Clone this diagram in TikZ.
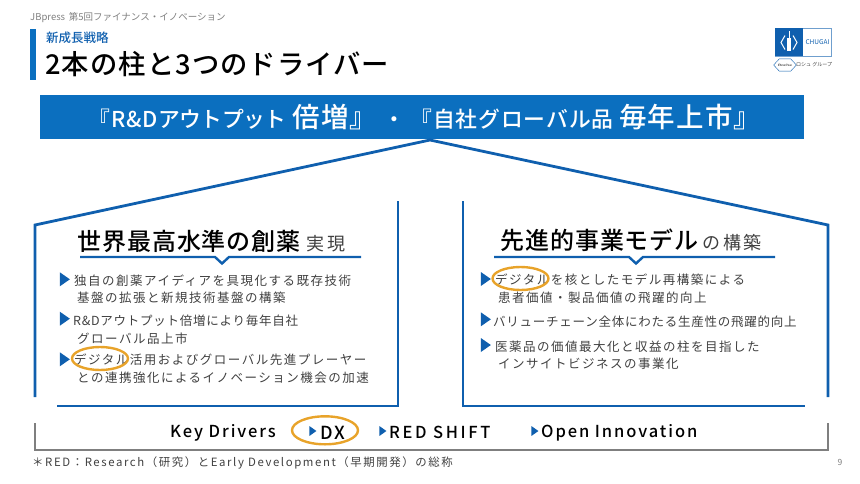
\documentclass[tikz,border=0pt]{standalone}
\usepackage{fontspec}
\setmainfont{Noto Sans CJK JP}[BoldFont={Noto Sans CJK JP Medium}]
\newfontfamily\bodyfont[LetterSpace=12,BoldFont={Noto Sans CJK JP Medium}]{Noto Sans CJK JP}
\newfontfamily\tightfont[LetterSpace=6]{Noto Sans CJK JP}
\newfontfamily\headfont[LetterSpace=4,BoldFont={Noto Sans CJK JP Medium}]{Noto Sans CJK JP}
\newfontfamily\widefont[LetterSpace=11.5,BoldFont={Noto Sans CJK JP Medium}]{Noto Sans CJK JP}
\newfontfamily\notefont[LetterSpace=14]{Noto Sans CJK JP}
\usetikzlibrary{arrows,shapes.geometric,positioning}
\definecolor{barblue}{HTML}{0B6FBF}
\definecolor{lineblue}{HTML}{0F5FAE}
\definecolor{ringorange}{HTML}{E8A32A}
\definecolor{bodygray}{HTML}{404040}
\definecolor{softgray}{HTML}{7F7F7F}

\begin{document}
\begin{tikzpicture}[x=1pt,y=-1pt,
    txt/.style={inner sep=0pt,anchor=west,align=left},
    body node/.style={txt,yshift=-1pt,font=\bodyfont\fontsize{12.5}{18}\selectfont,text=bodygray},
    head node/.style={txt,font=\headfont\bfseries\fontsize{24}{28}\selectfont,text=black},
    driver node/.style={txt,yshift=-1.5pt,font=\widefont\bfseries\fontsize{16.5}{20}\selectfont,text=black},
    tick/.style={isosceles triangle,isosceles triangle apex angle=70,fill=lineblue,
      inner sep=0pt,minimum height=10pt,minimum width=11pt},
    small tick/.style={tick,minimum height=7pt,minimum width=8pt},
    house/.style={draw=lineblue,line width=2.8pt,miter limit=10},
    ring/.style={ellipse,draw=ringorange,line width=2.4pt,inner sep=0pt}]
    \useasboundingbox (0,0) rectangle (860,483);

    % header
    \node[txt,font=\fontsize{9.5}{12}\selectfont,text=softgray] (series) at (30,18) {JBpress\, 第5回ファイナンス・イノベーション};
    \fill[barblue] (30,29) rectangle (36,80);
    \node[txt,font=\bfseries\fontsize{12.5}{14}\selectfont,text=lineblue] (kicker) at (46,38) {新成長戦略};
    \node[txt,font=\headfont\bfseries\fontsize{27.3}{30}\selectfont] (title) at (45,64) {2本の柱と3つのドライバー};

    % logo
    \node[draw=lineblue!60,line width=.5pt,minimum width=56pt,minimum height=28pt,inner sep=0pt] (logo) at (803,42) {};
    \fill[lineblue] (775,28) rectangle (803,56);
    \node[inner sep=0pt,font=\fontsize{6.5}{7}\selectfont,text=lineblue] (chugai) at (817.5,42.5) {CHUGAI};
    \draw[white,line width=1pt] (785,35.5) -- (781,42.5) -- (785,49.5) (793,35.5) -- (797,42.5) -- (793,49.5);
    \fill[white] (787,38) rectangle (791,51);
    \draw[white,line width=.6pt] (789,31) -- (789,38);
    \node[regular polygon,regular polygon sides=6,draw=lineblue,line width=.4pt,inner sep=0pt,
      xscale=1.6,minimum size=9pt,font=\fontsize{3}{3}\selectfont] (roche) at (785,65) {Roche};
    \node[txt,font=\fontsize{5}{6}\selectfont,text=bodygray] (group) at (796,65) {ロシュ グループ};

    % banner
    \node[fill=barblue,minimum width=764pt,minimum height=44pt,inner sep=0pt,text=white] (banner) at (422,117)
      {\hspace{6pt}\headfont\bfseries\fontsize{21.8}{24}\selectfont 『R\&D{\addfontfeature{LetterSpace=-2}アウトプット} {\fontsize{27.5}{30}\selectfont 倍増』} ・ 『自社グローバル品 {\fontsize{27.5}{30}\selectfont 毎年上市』}};

    % roof and pillars
    \coordinate (roofl0) at (35,397);
    \coordinate (roofl1) at (35,225);
    \coordinate (peak) at (430,140);
    \coordinate (roofr1) at (828,225);
    \coordinate (roofr0) at (828,397);
    \draw[house] (roofl0) -- (roofl1) -- (peak) -- (roofr1) -- (roofr0);
    \coordinate (pilla) at (398,201);
    \coordinate (pillb) at (398,406);
    \coordinate (pillc) at (57,406);
    \draw[house] (pilla) -- (pillb) -- (pillc);
    \coordinate (pilra) at (463,201);
    \coordinate (pilrb) at (463,406);
    \coordinate (pilrc) at (805,406);
    \draw[house] (pilra) -- (pilrb) -- (pilrc);

    % left pillar
    \node[head node] (lhead) at (77,241) {世界最高水準の創薬\hspace{6pt}{\mdseries\addfontfeature{LetterSpace=12}\color{bodygray}\fontsize{18}{20}\selectfont 実現}};
    \draw[lineblue,line width=2.4pt] (80,257) -- (215,257) -- (222,263.5) -- (229,257) -- (361,257);
    \node[tick] (lt1) at (63.5,279.3) {};
    \node[body node] (lb1) at (74,280) {独自の創薬アイディアを具現化する既存技術};
    \node[body node] (lb1b) at (77,297) {基盤の拡張と新規技術基盤の構築};
    \node[tick] (lt2) at (63.5,318.7) {};
    \node[body node,font=\tightfont\fontsize{12.5}{18}\selectfont] (lb2) at (73,320) {R\&Dアウトプット倍増により毎年自社};
    \node[body node] (lb2b) at (77,338) {グローバル品上市};
    \node[tick] (lt3) at (63.5,359.3) {};
    \node[body node] (lb3) at (74,359) {デジタル活用およびグローバル先進プレーヤー};
    \node[body node] (lb3b) at (77,377) {との連携強化によるイノベーション機会の加速};
    \node[ring,minimum width=56pt,minimum height=23pt] (lring) at (100,358.5) {};

    % right pillar
    \node[head node] (rhead) at (500,240) {先進的事業モデル\hspace{4pt}{\mdseries\addfontfeature{LetterSpace=12}\color{bodygray}\fontsize{18}{20}\selectfont の構築}};
    \draw[lineblue,line width=2.4pt] (494,257) -- (629,257) -- (636,263.5) -- (643,257) -- (775,257);
    \node[tick] (rt1) at (484.5,279) {};
    \node[body node] (rb1) at (495,279) {デジタルを核としたモデル再構築による};
    \node[body node] (rb1b) at (498,297) {患者価値・製品価値の飛躍的向上};
    \node[tick] (rt2) at (484.5,319.3) {};
    \node[body node,font=\tightfont\fontsize{12.5}{18}\selectfont] (rb2) at (493,321) {バリューチェーン全体にわたる生産性の飛躍的向上};
    \node[tick] (rt3) at (484.5,345) {};
    \node[body node] (rb3) at (495,346) {医薬品の価値最大化と収益の柱を目指した};
    \node[body node] (rb3b) at (498,363) {インサイトビジネスの事業化};
    \node[ring,minimum width=56pt,minimum height=23pt] (rring) at (520.5,278.5) {};

    % key drivers
    \coordinate (bracka) at (35,423);
    \coordinate (brackb) at (35,450);
    \coordinate (brackc) at (828,450);
    \coordinate (brackd) at (828,423);
    \draw[draw=softgray,line width=2.4pt] (bracka) -- (brackb) -- (brackc) -- (brackd);
    \node[driver node] (keydrv) at (170,431) {Key Drivers};
    \node[small tick] (dt1) at (312,431) {};
    \node[driver node] (dx) at (320,431) {\fontsize{18}{20}\selectfont DX};
    \node[ring,minimum width=66pt,minimum height=28pt] (dxring) at (325,430.3) {};
    \node[small tick] (dt2) at (382,431) {};
    \node[driver node] (redshift) at (389,431) {\addfontfeature{LetterSpace=16}RED SHIFT};
    \node[small tick] (dt3) at (534,431) {};
    \node[driver node] (openinn) at (541,431) {Open Innovation};

    % footer
    \node[txt,yshift=-1pt,font=\notefont\fontsize{11.4}{13}\selectfont,text=bodygray] (note) at (32,462) {＊RED：Research（研究）とEarly Development（早期開発）の総称};
    \node[font=\fontsize{8.5}{10}\selectfont,text=softgray,inner sep=0pt] (pageno) at (840,462) {9};
\end{tikzpicture}
\end{document}
